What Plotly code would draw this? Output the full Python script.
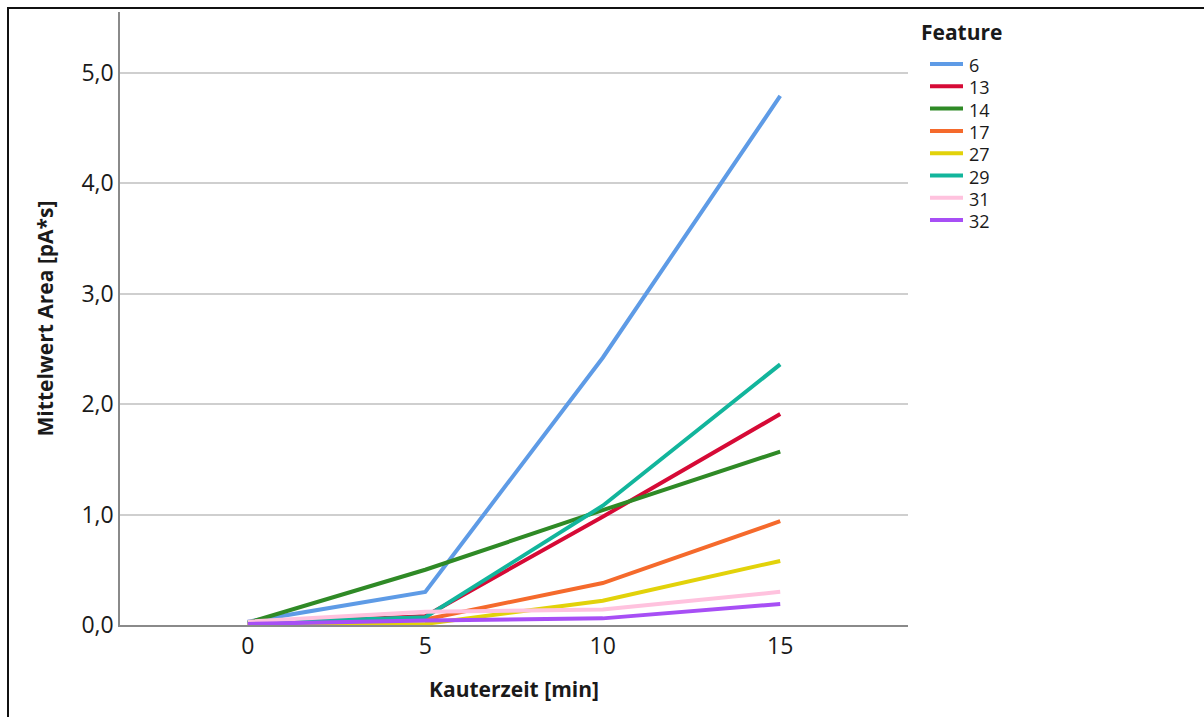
import plotly.graph_objects as go

# Kauterzeit in Minuten
kauterzeit = [0, 5, 10, 15]

# Mittelwerte der Peakfläche je Feature [pA*s]
feature_6 = [0.03, 0.30, 2.42, 4.79]
feature_13 = [0.01, 0.08, 0.98, 1.91]
feature_14 = [0.02, 0.50, 1.04, 1.57]
feature_17 = [0.00, 0.05, 0.38, 0.94]
feature_27 = [0.00, 0.01, 0.22, 0.58]
feature_29 = [0.02, 0.07, 1.08, 2.36]
feature_31 = [0.03, 0.12, 0.14, 0.30]
feature_32 = [0.01, 0.04, 0.06, 0.19]

feature_names = ["6", "13", "14", "17", "27", "29", "31", "32"]
feature_values = [feature_6, feature_13, feature_14, feature_17,
                  feature_27, feature_29, feature_31, feature_32]
feature_colors = ["#5e9be6", "#d60a36", "#2f8a26", "#f56a2c",
                  "#e2d20a", "#12b59c", "#ffc2de", "#a74ff5"]

y_ticks = [0, 1, 2, 3, 4, 5]
x_ticks = [0, 5, 10, 15]

FONT = "Open Sans, DejaVu Sans, sans-serif"

W, H = 1204, 717
L, R, T, B = 120, 296, 12, 92
plot_w = W - L - R
plot_h = H - T - B


def px_x(x):
    """pixel column -> paper x"""
    return (x - L) / plot_w


def px_y(y):
    """pixel row -> paper y"""
    return 1 - (y - T) / plot_h


fig = go.Figure()
for name, vals, col in zip(feature_names, feature_values, feature_colors):
    fig.add_trace(go.Scatter(
        x=kauterzeit, y=vals, name=name, mode="lines",
        line=dict(color=col, width=4),
    ))

# outer frame (only left and top edges fall inside the page)
fig.add_shape(type="rect", xref="paper", yref="paper",
              x0=px_x(8), x1=1.5, y0=-0.5, y1=px_y(8),
              line=dict(color="#111111", width=2), layer="below")

# legend: title plus one swatch and label per feature
fig.add_annotation(text="<b>Feature</b>", xref="paper", yref="paper",
                   x=px_x(919), y=px_y(32), xanchor="left", yanchor="middle",
                   showarrow=False, font=dict(size=21, family=FONT, color="#1a1a1a"))
row0, row_gap = 64, 22.3
for i, (name, col) in enumerate(zip(feature_names, feature_colors)):
    yc = row0 + i * row_gap
    fig.add_shape(type="line", xref="paper", yref="paper",
                  x0=px_x(930), x1=px_x(963), y0=px_y(yc), y1=px_y(yc),
                  line=dict(color=col, width=4))
    fig.add_annotation(text=name, xref="paper", yref="paper",
                       x=px_x(967), y=px_y(yc + 1), xanchor="left", yanchor="middle",
                       showarrow=False, font=dict(size=18, family=FONT, color="#1a1a1a"))

fig.update_layout(
    width=W, height=H,
    margin=dict(l=L, r=R, t=T, b=B),
    paper_bgcolor="white", plot_bgcolor="white",
    separators=",.",
    font=dict(family=FONT, color="#1a1a1a"),
    showlegend=False,
    xaxis=dict(
        range=[-3.6, 18.6],
        tickvals=x_ticks,
        tickfont=dict(size=23),
        showgrid=False, zeroline=False,
        showline=True, linecolor="#8a8a8a", linewidth=1.5,
        ticks="",
        title=dict(text="<b>Kauterzeit [min]</b>", font=dict(size=21), standoff=22),
    ),
    yaxis=dict(
        range=[0, 5.55],
        tickvals=y_ticks,
        tickformat=".1f",
        tickfont=dict(size=23),
        showgrid=True, gridcolor="#cfcfcf", gridwidth=1.5,
        zeroline=False,
        showline=True, linecolor="#8a8a8a", linewidth=1.5,
        ticks="",
        title=dict(text="<b>Mittelwert Area [pA*s]</b>", font=dict(size=21), standoff=22),
    ),
)

fig.write_html("out.html")
